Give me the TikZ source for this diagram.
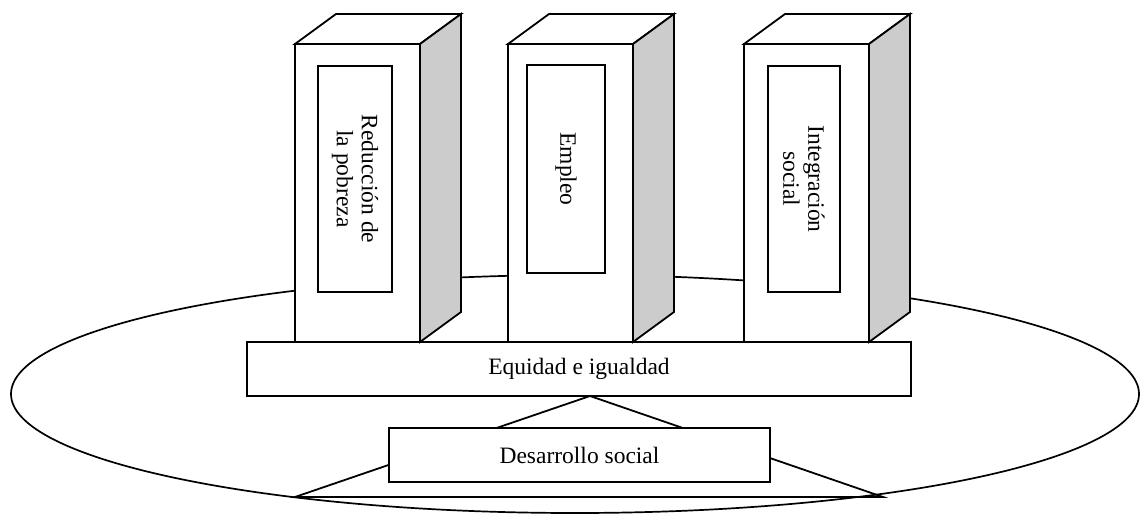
\documentclass[tikz,border=0pt]{standalone}
\usepackage{fontspec}
\setmainfont{Liberation Serif}
\definecolor{sidegray}{RGB}{204,204,204}
\begin{document}
\begin{tikzpicture}[x=1pt,y=-1pt,
  edge/.style={draw=black, line width=1.8pt, line join=miter},
  box/.style={edge, fill=white, inner sep=0pt, align=center,
    font=\fontsize{23.5}{25}\selectfont},
  inbox/.style={box, rotate=-90}]
\useasboundingbox (0,0) rectangle (1140,514);
% base ellipse
\draw[edge, line width=1.7pt] (575,394) ellipse [x radius=564pt, y radius=119pt];
% triangle behind the lower box
\coordinate (apex) at (590,396);
\coordinate (bl) at (295,497);
\coordinate (br) at (883,497);
\draw[edge] (apex) -- (bl) -- (br) -- cycle;
% lower boxes
\node[box, minimum width=381pt, minimum height=54pt] (ds) at (579.5,455) {Desarrollo social};
\node[box, minimum width=664pt, minimum height=54pt] (eq) at (579,369) {Equidad e igualdad};
% pillars
\foreach \x in {295,508,744} {
  \draw[edge, fill=white] (\x,44) -- ++(41,-30) -- ++(125,0) -- ++(-41,30) -- cycle;
  \draw[edge, fill=sidegray] (\x+125,44) -- ++(41,-30) -- ++(0,298) -- ++(-41,30) -- cycle;
  \draw[edge, fill=white] (\x,44) rectangle (\x+125,342);
}
\node[inbox, minimum width=226pt, minimum height=74pt] (p1) at (355,179) {Reducción de\\la pobreza};
\node[inbox, minimum width=208pt, minimum height=78pt] (p2) at (566,169) {Empleo};
\node[inbox, minimum width=226pt, minimum height=72pt] (p3) at (804,179) {Integración\\social};
\end{tikzpicture}
\end{document}
